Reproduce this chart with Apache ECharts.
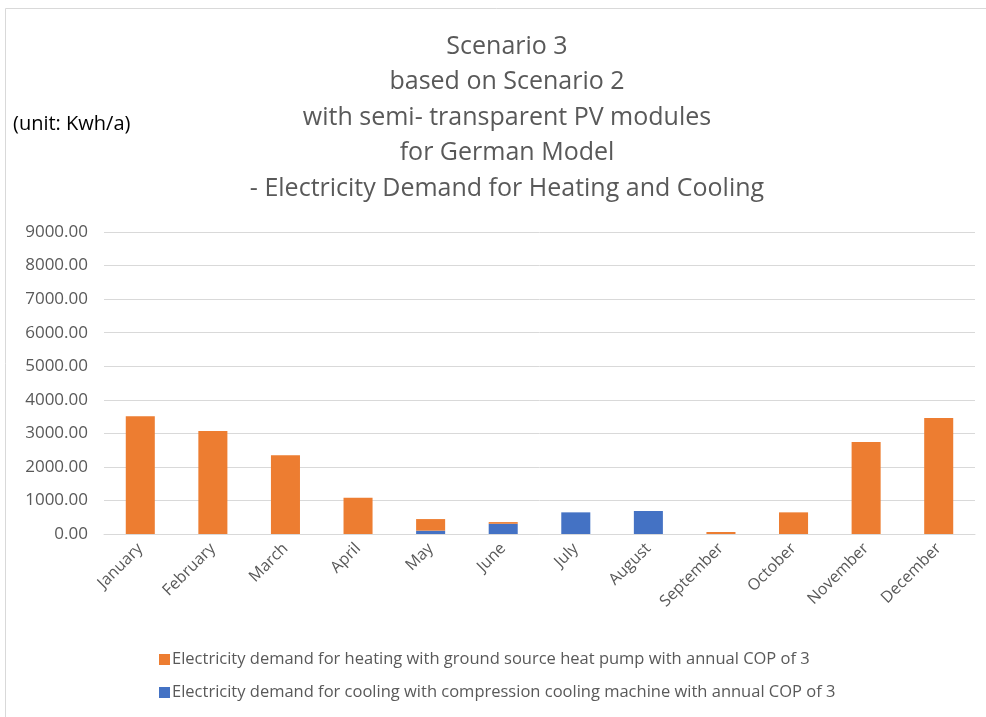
<!DOCTYPE html>
<html>
<head>
<meta charset="utf-8">
<script src="https://cdn.jsdelivr.net/npm/echarts@6/dist/echarts.min.js"></script>
<style>
  html, body { margin: 0; padding: 0; background: #fff; }
  #chart { width: 986px; height: 717px; }
</style>
</head>
<body>
<div id="chart"></div>
<script>
var months = ['January', 'February', 'March', 'April', 'May', 'June',
  'July', 'August', 'September', 'October', 'November', 'December'];
var heating = [3510, 3070, 2345, 1080, 345, 50, 0, 0, 60, 645, 2740, 3460];
var cooling = [0, 0, 0, 0, 100, 305, 645, 685, 0, 0, 0, 0];

var heatingName = 'Electricity demand for heating with ground source heat pump with annual COP of 3';
var coolingName = 'Electricity demand for cooling with compression cooling machine with annual COP of 3';

var fontFam = '"Open Sans", "Noto Sans", sans-serif';

var chart = echarts.init(document.getElementById('chart'));
chart.setOption({
  animation: false,
  textStyle: { fontFamily: fontFam },
  title: {
    text: 'Scenario 3\nbased on Scenario 2\nwith semi- transparent PV modules\nfor German Model\n- Electricity Demand for Heating and Cooling',
    left: 502,
    textAlign: 'center',
    top: 24,
    textStyle: {
      fontFamily: fontFam,
      fontWeight: 'normal',
      fontSize: 25,
      color: '#595959',
      lineHeight: 35.5
    }
  },
  graphic: [{
    type: 'rect',
    shape: { x: 5.5, y: 8.5, width: 990, height: 720 },
    style: { fill: 'none', stroke: '#d9d9d9', lineWidth: 1 }
  }, {
    type: 'text',
    left: 13,
    top: 114,
    style: { text: '(unit: Kwh/a)', fontSize: 20, fill: '#000', fontFamily: fontFam }
  }],
  legend: {
    orient: 'vertical',
    left: 154,
    top: 646,
    itemGap: 16,
    itemWidth: 11,
    itemHeight: 11,
    icon: 'rect',
    data: [heatingName, coolingName],
    textStyle: { fontSize: 16.5, color: '#595959', padding: [0, 0, 0, -3] }
  },
  grid: { left: 104, right: 11, top: 232, bottom: 183 },
  xAxis: {
    type: 'category',
    data: months,
    axisTick: { show: false },
    axisLine: { lineStyle: { color: '#d9d9d9', width: 1 } },
    axisLabel: { rotate: 45, color: '#595959', fontSize: 16, margin: 12 }
  },
  yAxis: {
    type: 'value',
    min: 0,
    max: 9000,
    interval: 1000,
    axisLine: { show: false },
    axisTick: { show: false },
    splitLine: { lineStyle: { color: '#d9d9d9', width: 1 } },
    axisLabel: {
      color: '#595959',
      fontSize: 17,
      margin: 16,
      formatter: function (v) { return v.toFixed(2); }
    }
  },
  series: [{
    name: coolingName,
    type: 'bar',
    stack: 'total',
    barWidth: '40%',
    itemStyle: { color: '#4472C4' },
    data: cooling
  }, {
    name: heatingName,
    type: 'bar',
    stack: 'total',
    barWidth: '40%',
    itemStyle: { color: '#ED7D31' },
    data: heating
  }]
});
</script>
</body>
</html>
